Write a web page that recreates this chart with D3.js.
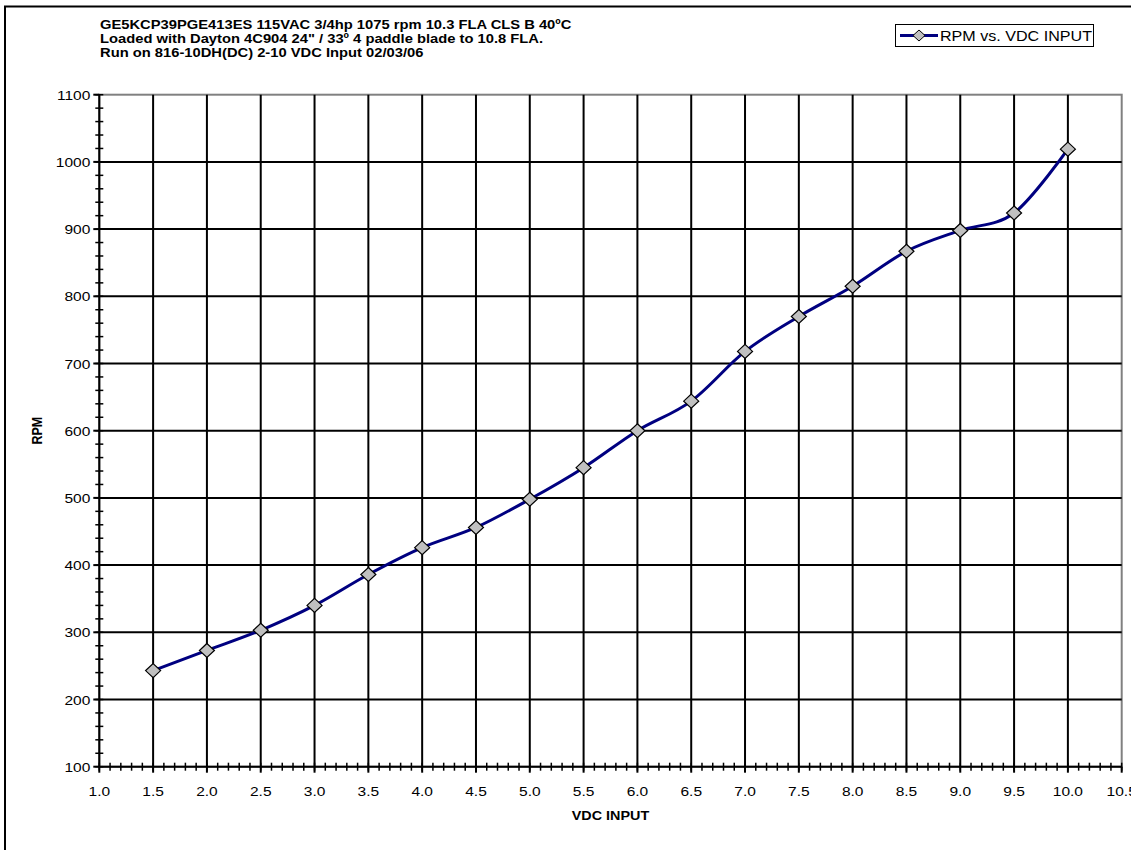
<!DOCTYPE html>
<html><head><meta charset="utf-8">
<script src="https://cdn.jsdelivr.net/npm/d3@7"></script>
<style>body{margin:0;background:#fff}svg{display:block;font-family:Arial,"Liberation Sans",sans-serif}</style>
</head><body>
<svg id="c" width="1131" height="850"></svg>
<script>
const titleLines = ["GE5KCP39PGE413ES 115VAC 3/4hp 1075 rpm 10.3 FLA CLS B 40ºC",
  "Loaded with Dayton 4C904 24\" / 33º 4 paddle blade to 10.8 FLA.",
  "Run on 816-10DH(DC) 2-10 VDC Input 02/03/06"];
const seriesName = "RPM vs. VDC INPUT";
const vdc = [1.5,2.0,2.5,3.0,3.5,4.0,4.5,5.0,5.5,6.0,6.5,7.0,7.5,8.0,8.5,9.0,9.5,10.0];
const rpm = [243,273,303,340,386,426,456,498,545,600,644,718,770,815,867,898,924,1019];
const xTicks = d3.range(1.0,10.51,0.5);
const yTicks = d3.range(100,1101,100);
const xLabel = "VDC INPUT", yLabel = "RPM";

const svg = d3.select("#c");
const L=99.3,R=1121.7,T=94.7,B=766.7;
const x = d3.scaleLinear().domain([1.0,10.5]).range([L,R]);
const y = d3.scaleLinear().domain([100,1100]).range([B,T]);
const SX = 1.15; // horizontal text stretch seen in the reference

// outer frame
svg.append("rect").attr("x",5).attr("y",6.5).attr("width",1140).attr("height",860)
  .attr("fill","none").attr("stroke","#000").attr("stroke-width",2);

// plot border (gray)
svg.append("rect").attr("x",L).attr("y",T).attr("width",R-L).attr("height",B-T)
  .attr("fill","none").attr("stroke","#808080").attr("stroke-width",2);

// gridlines
const g = svg.append("g");
g.selectAll(".vg").data(xTicks.filter(d=>d>1.01 && d<10.49)).enter().append("line")
  .attr("x1",d=>x(d)).attr("x2",d=>x(d)).attr("y1",T).attr("y2",B)
  .attr("stroke","#000").attr("stroke-width",2);
g.selectAll(".hg").data(yTicks.filter(d=>d>100 && d<1100)).enter().append("line")
  .attr("x1",L).attr("x2",R).attr("y1",d=>y(d)).attr("y2",d=>y(d))
  .attr("stroke","#000").attr("stroke-width",2);

// axes
const xMinor = d3.range(1.0,10.501,0.1);
const yMinor = d3.range(100,1100.1,20);
const ax = svg.append("g");
ax.append("line").attr("x1",L).attr("x2",R).attr("y1",B).attr("y2",B).attr("stroke","#000").attr("stroke-width",2);
ax.append("line").attr("x1",L).attr("x2",L).attr("y1",T).attr("y2",B).attr("stroke","#000").attr("stroke-width",2);
ax.selectAll(".xm").data(xMinor).enter().append("line")
  .attr("x1",d=>x(d)).attr("x2",d=>x(d)).attr("y1",B-4).attr("y2",B+4).attr("stroke","#000").attr("stroke-width",1.5);
ax.selectAll(".xM").data(xTicks).enter().append("line")
  .attr("x1",d=>x(d)).attr("x2",d=>x(d)).attr("y1",B).attr("y2",B+6).attr("stroke","#000").attr("stroke-width",2);
ax.selectAll(".ym").data(yMinor).enter().append("line")
  .attr("x1",L-4).attr("x2",L+4).attr("y1",d=>y(d)).attr("y2",d=>y(d)).attr("stroke","#000").attr("stroke-width",1.5);
ax.selectAll(".yM").data(yTicks).enter().append("line")
  .attr("x1",L-6).attr("x2",L).attr("y1",d=>y(d)).attr("y2",d=>y(d)).attr("stroke","#000").attr("stroke-width",2);

ax.selectAll(".xl").data(xTicks).enter().append("text")
  .attr("transform",d=>`translate(${x(d)},${B+29}) scale(${SX},1)`)
  .attr("text-anchor","middle").attr("font-size",13.5)
  .text(d=>d.toFixed(1));
ax.selectAll(".yl").data(yTicks).enter().append("text")
  .attr("transform",d=>`translate(${L-9},${y(d)+5}) scale(${SX},1)`)
  .attr("text-anchor","end").attr("font-size",13.5)
  .text(d=>d);

svg.append("text").attr("transform",`translate(${(L+R)/2},820) scale(${SX},1)`).attr("text-anchor","middle")
  .attr("font-size",12.5).attr("font-weight","bold").text(xLabel);
svg.append("text").attr("transform",`translate(42,${(T+B)/2}) rotate(-90) scale(1,${SX})`).attr("text-anchor","middle")
  .attr("font-size",12.5).attr("font-weight","bold").text(yLabel);

// title
svg.append("g").attr("transform",`translate(100,0) scale(1.18,1)`).selectAll("text").data(titleLines).enter().append("text")
  .attr("x",0).attr("y",(d,i)=>29+i*14).attr("font-size",12.5).attr("font-weight","bold").text(d=>d);

// series
const data = vdc.map((v,i)=>({v,r:rpm[i]}));
const line = d3.line().x(d=>x(d.v)).y(d=>y(d.r)).curve(d3.curveCardinal.tension(0));
svg.append("path").datum(data).attr("d",line).attr("fill","none").attr("stroke","#000080").attr("stroke-width",3);
const diamond = "M0,-7L7.5,0L0,7L-7.5,0Z";
svg.selectAll(".pt").data(data).enter().append("path")
  .attr("transform",d=>`translate(${x(d.v)},${y(d.r)})`).attr("d",diamond)
  .attr("fill","#c0c0c0").attr("stroke","#000").attr("stroke-width",1.2);

// legend
const lg = svg.append("g");
lg.append("rect").attr("x",895.5).attr("y",24.5).attr("width",198).attr("height",22).attr("fill","#fff").attr("stroke","#000").attr("stroke-width",1);
lg.append("line").attr("x1",900).attr("x2",938).attr("y1",35.5).attr("y2",35.5).attr("stroke","#000080").attr("stroke-width",3);
lg.append("path").attr("transform","translate(919,35.5)").attr("d","M0,-5.5L6,0L0,5.5L-6,0Z").attr("fill","#c0c0c0").attr("stroke","#000");
lg.append("text").attr("transform",`translate(940,41) scale(${SX},1)`).attr("font-size",14).text(seriesName);
</script>
</body></html>
